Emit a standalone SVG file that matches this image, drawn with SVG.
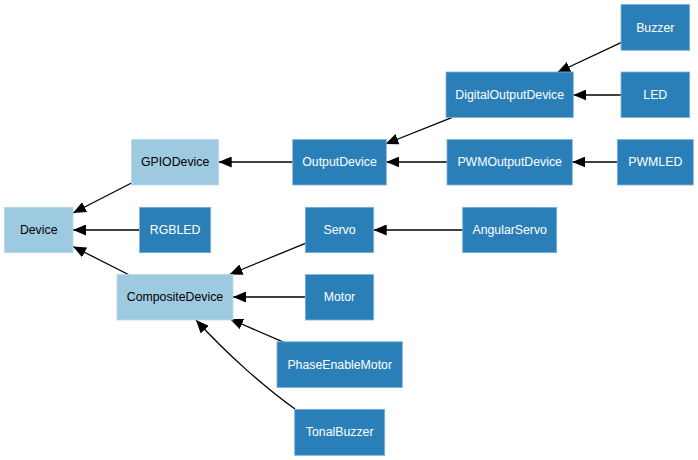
<svg xmlns="http://www.w3.org/2000/svg" width="698" height="460" viewBox="0 0 698 460">
<style>
.n rect{stroke-width:0.8}
.d rect{fill:#2b7fb8;stroke:#7fb3d8}
.l rect{fill:#9ecae1;stroke:#b5d6ea}
.n text{font-family:"Liberation Sans",Arial,sans-serif;font-size:12.3px;text-anchor:middle}
.d text{fill:#ffffff}
.l text{fill:#000000}
#edges path{fill:none;stroke:#000000;stroke-width:1.3;marker-end:url(#arr)}
</style>
<defs>
<marker id="arr" markerUnits="userSpaceOnUse" markerWidth="13" markerHeight="11" refX="13" refY="5.5" orient="auto">
<path d="M0,0 L13,5.5 L0,11 z" fill="#000000"/>
</marker>
</defs>
<rect width="698" height="460" fill="#ffffff"/>
<g id="edges">
<path d="M131.5,183 L73,213"/>
<path d="M139.3,230 L73,230"/>
<path d="M129.3,275 L73,246.5"/>
<path d="M292.7,162 L218.7,162"/>
<path d="M452.3,117.3 L385.5,144"/>
<path d="M447,162 L386.3,162"/>
<path d="M621,42.7 L557.3,72.5"/>
<path d="M621,95 L573.3,95"/>
<path d="M617.3,162 L572.3,162"/>
<path d="M462.7,230 L373.7,230"/>
<path d="M305.3,243.3 L229.5,274.5"/>
<path d="M305.3,297 L233,297"/>
<path d="M284,342.3 L230,319"/>
<path d="M295,409 C265,388 225,352 196,320"/>
</g>
<g id="Device" class="n l"><rect x="4.5" y="207.3" width="68.5" height="45.4"/><text x="38.7" y="234.3">Device</text></g>
<g id="GPIODevice" class="n l"><rect x="131.5" y="139.5" width="87.2" height="45.5"/><text x="175.1" y="166.3">GPIODevice</text></g>
<g id="RGBLED" class="n d"><rect x="139.5" y="207.3" width="71.2" height="45.4"/><text x="175.1" y="234.3">RGBLED</text></g>
<g id="CompositeDevice" class="n l"><rect x="117" y="274.5" width="116" height="45.5"/><text x="175" y="301.3">CompositeDevice</text></g>
<g id="OutputDevice" class="n d"><rect x="292.7" y="139.5" width="93.6" height="45.5"/><text x="339.5" y="166.3">OutputDevice</text></g>
<g id="DigitalOutputDevice" class="n d"><rect x="446" y="72" width="127.3" height="45.5"/><text x="509.7" y="98.9">DigitalOutputDevice</text></g>
<g id="PWMOutputDevice" class="n d"><rect x="447" y="139.5" width="125.3" height="45.5"/><text x="509.7" y="166.3">PWMOutputDevice</text></g>
<g id="Buzzer" class="n d"><rect x="621" y="4.5" width="68.7" height="45.8"/><text x="655.3" y="31.5">Buzzer</text></g>
<g id="LED" class="n d"><rect x="621" y="72" width="68.7" height="45.5"/><text x="655.3" y="98.9">LED</text></g>
<g id="PWMLED" class="n d"><rect x="617.3" y="139.5" width="76" height="45.5"/><text x="655.3" y="166.3">PWMLED</text></g>
<g id="Servo" class="n d"><rect x="305.3" y="207.3" width="68.4" height="45.4"/><text x="339.5" y="234.3">Servo</text></g>
<g id="AngularServo" class="n d"><rect x="462.7" y="207.3" width="94" height="45.4"/><text x="509.7" y="234.3">AngularServo</text></g>
<g id="Motor" class="n d"><rect x="305.3" y="274.5" width="68.4" height="45.5"/><text x="339.5" y="301.3">Motor</text></g>
<g id="PhaseEnableMotor" class="n d"><rect x="277" y="341.8" width="125.3" height="45.8"/><text x="339.7" y="368.8">PhaseEnableMotor</text></g>
<g id="TonalBuzzer" class="n d"><rect x="294.7" y="409.3" width="90" height="46"/><text x="339.7" y="436.4">TonalBuzzer</text></g>
</svg>
